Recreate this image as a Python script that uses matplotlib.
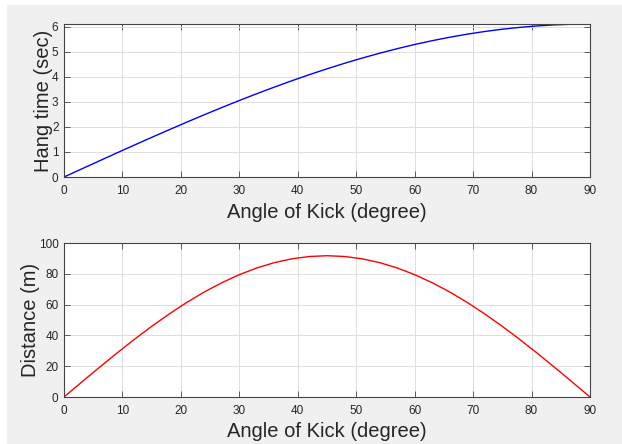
import matplotlib
matplotlib.use("Agg")
import matplotlib.pyplot as plt

angles = [0, 3, 6, 9, 12, 15, 18, 21, 24, 27, 30, 33, 36, 39, 42, 45,
          48, 51, 54, 57, 60, 63, 66, 69, 72, 75, 78, 81, 84, 87, 90]
hang_time = [0.0, 0.320, 0.639, 0.957, 1.272, 1.583, 1.890, 2.192, 2.488, 2.777,
             3.058, 3.331, 3.595, 3.849, 4.092, 4.325, 4.545, 4.753, 4.948, 5.129,
             5.297, 5.449, 5.587, 5.710, 5.817, 5.908, 5.982, 6.041, 6.082, 6.108, 6.116]
distance = [0.0, 9.59, 19.07, 28.35, 37.31, 45.87, 53.92, 61.39, 68.18, 74.22,
            79.45, 83.81, 87.25, 89.74, 91.24, 91.74, 91.24, 89.74, 87.25, 83.81,
            79.45, 74.22, 68.18, 61.39, 53.92, 45.87, 37.31, 28.35, 19.07, 9.59, 0.0]
xticks = [0, 10, 20, 30, 40, 50, 60, 70, 80, 90]
yticks_top = [0, 1, 2, 3, 4, 5, 6]
yticks_bot = [0, 20, 40, 60, 80, 100]

plt.rcParams['font.family'] = ['Liberation Sans', 'DejaVu Sans']
W, H = 622, 444
fig = plt.figure(figsize=(W / 100, H / 100), dpi=100)
fig.patch.set_facecolor('white')
bg = plt.Rectangle((7 / W, 0), 1 - 7 / W, 1 - 5 / H, transform=fig.transFigure,
                   facecolor='#f0f0f0', edgecolor='none', zorder=-10)
fig.patches.append(bg)

txtcol = '#262626'

def make_ax(top, bottom):
    left, right = 64, 590
    ax = fig.add_axes([left / W, 1 - bottom / H, (right - left) / W, (bottom - top) / H])
    ax.set_facecolor('white')
    for s in ax.spines.values():
        s.set_color('#444444')
        s.set_linewidth(0.8)
    ax.tick_params(direction='in', top=True, right=True, length=4, width=0.6,
                   colors='#444444', labelcolor=txtcol, labelsize=8.5)
    ax.tick_params(axis='x', pad=6)
    ax.tick_params(axis='y', pad=4)
    ax.grid(True, color='#dedede', linewidth=0.7)
    ax.set_axisbelow(True)
    return ax

ax1 = make_ax(24, 177)
ax1.plot(angles, hang_time, color='blue', linewidth=1.0)
ax1.set_xlim(0, 90)
ax1.set_ylim(0, max(hang_time))
ax1.set_xticks(xticks)
ax1.set_yticks(yticks_top)
ax1.set_xlabel('Angle of Kick (degree)', fontsize=14.5, color=txtcol, labelpad=4)
ax1.set_ylabel('Hang time (sec)', fontsize=14.5, color=txtcol, labelpad=-1)

ax2 = make_ax(243, 397)
ax2.plot(angles, distance, color='red', linewidth=1.0)
ax2.set_xlim(0, 90)
ax2.set_ylim(0, 100)
ax2.set_xticks(xticks)
ax2.set_yticks(yticks_bot)
ax2.set_xlabel('Angle of Kick (degree)', fontsize=14.5, color=txtcol, labelpad=3)
ax2.set_ylabel('Distance (m)', fontsize=14.5, color=txtcol, labelpad=-1)

fig.savefig('out.png', dpi=100, facecolor=fig.get_facecolor())
